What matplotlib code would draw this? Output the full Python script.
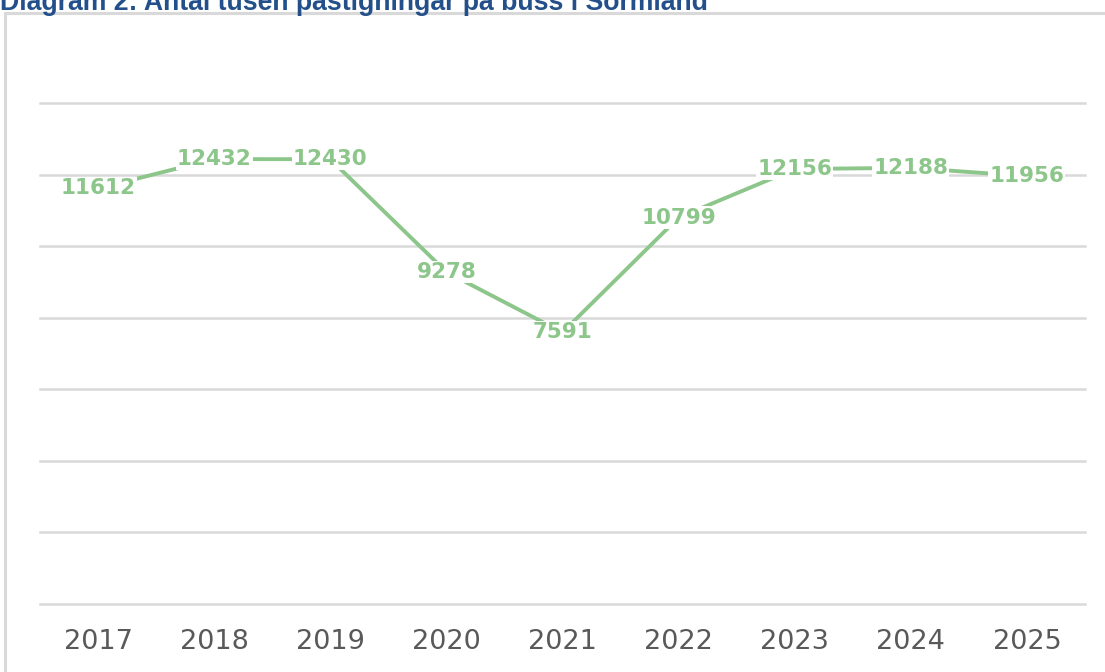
import matplotlib.pyplot as plt
from matplotlib.patches import Rectangle

# data
years = ['2017', '2018', '2019', '2020', '2021', '2022', '2023', '2024', '2025']
passengers = [11612, 12432, 12430, 9278, 7591, 10799, 12156, 12188, 11956]

green = '#8DC68A'
grid_col = '#D9D9D9'

fig = plt.figure(figsize=[11.05, 6.72], dpi=100)

# light grey chart border, running off the right and bottom edge
fig.patches.append(Rectangle((5 / 1105, -0.05), 1.1, 1 - 13 / 672 + 0.05,
                             transform=fig.transFigure, fill=False,
                             edgecolor=grid_col, linewidth=2.2, zorder=0))

# title, cut off at the top like in the original
fig.text(0.0, 1 - 10 / 672, 'Diagram 2: Antal tusen påstigningar på buss i Sörmland',
         fontsize=19.2, fontweight='bold', color='#23508A',
         family=['Liberation Sans', 'DejaVu Sans'], va='baseline', ha='left')

ax = fig.add_axes([40 / 1105, 68 / 672, 1045 / 1105, 501 / 672])
x = list(range(len(years)))
ax.plot(x, passengers, color=green, linewidth=2.8, solid_capstyle='butt', zorder=2)

for xi, v in zip(x, passengers):
    ax.text(xi, v, str(v), ha='center', va='center', fontsize=15.5, fontweight='bold',
            color=green, zorder=3,
            bbox=dict(boxstyle='square,pad=0.05', facecolor='white', edgecolor='none'))

ax.set_xlim(-0.5, len(years) - 0.5)
ax.set_ylim(0, 14000)
ax.set_yticks(range(0, 14001, 2000))
ax.yaxis.grid(True, color=grid_col, linewidth=1.8)
for gl in ax.yaxis.get_gridlines():
    gl.set_clip_on(False)
ax.set_axisbelow(True)
ax.tick_params(axis='y', left=False, labelleft=False)
ax.set_xticks(x)
ax.set_xticklabels(years, fontsize=19.5, color='#595959')
ax.tick_params(axis='x', length=0, pad=18)
for s in ax.spines.values():
    s.set_visible(False)

plt.savefig('out.png', dpi=100)
